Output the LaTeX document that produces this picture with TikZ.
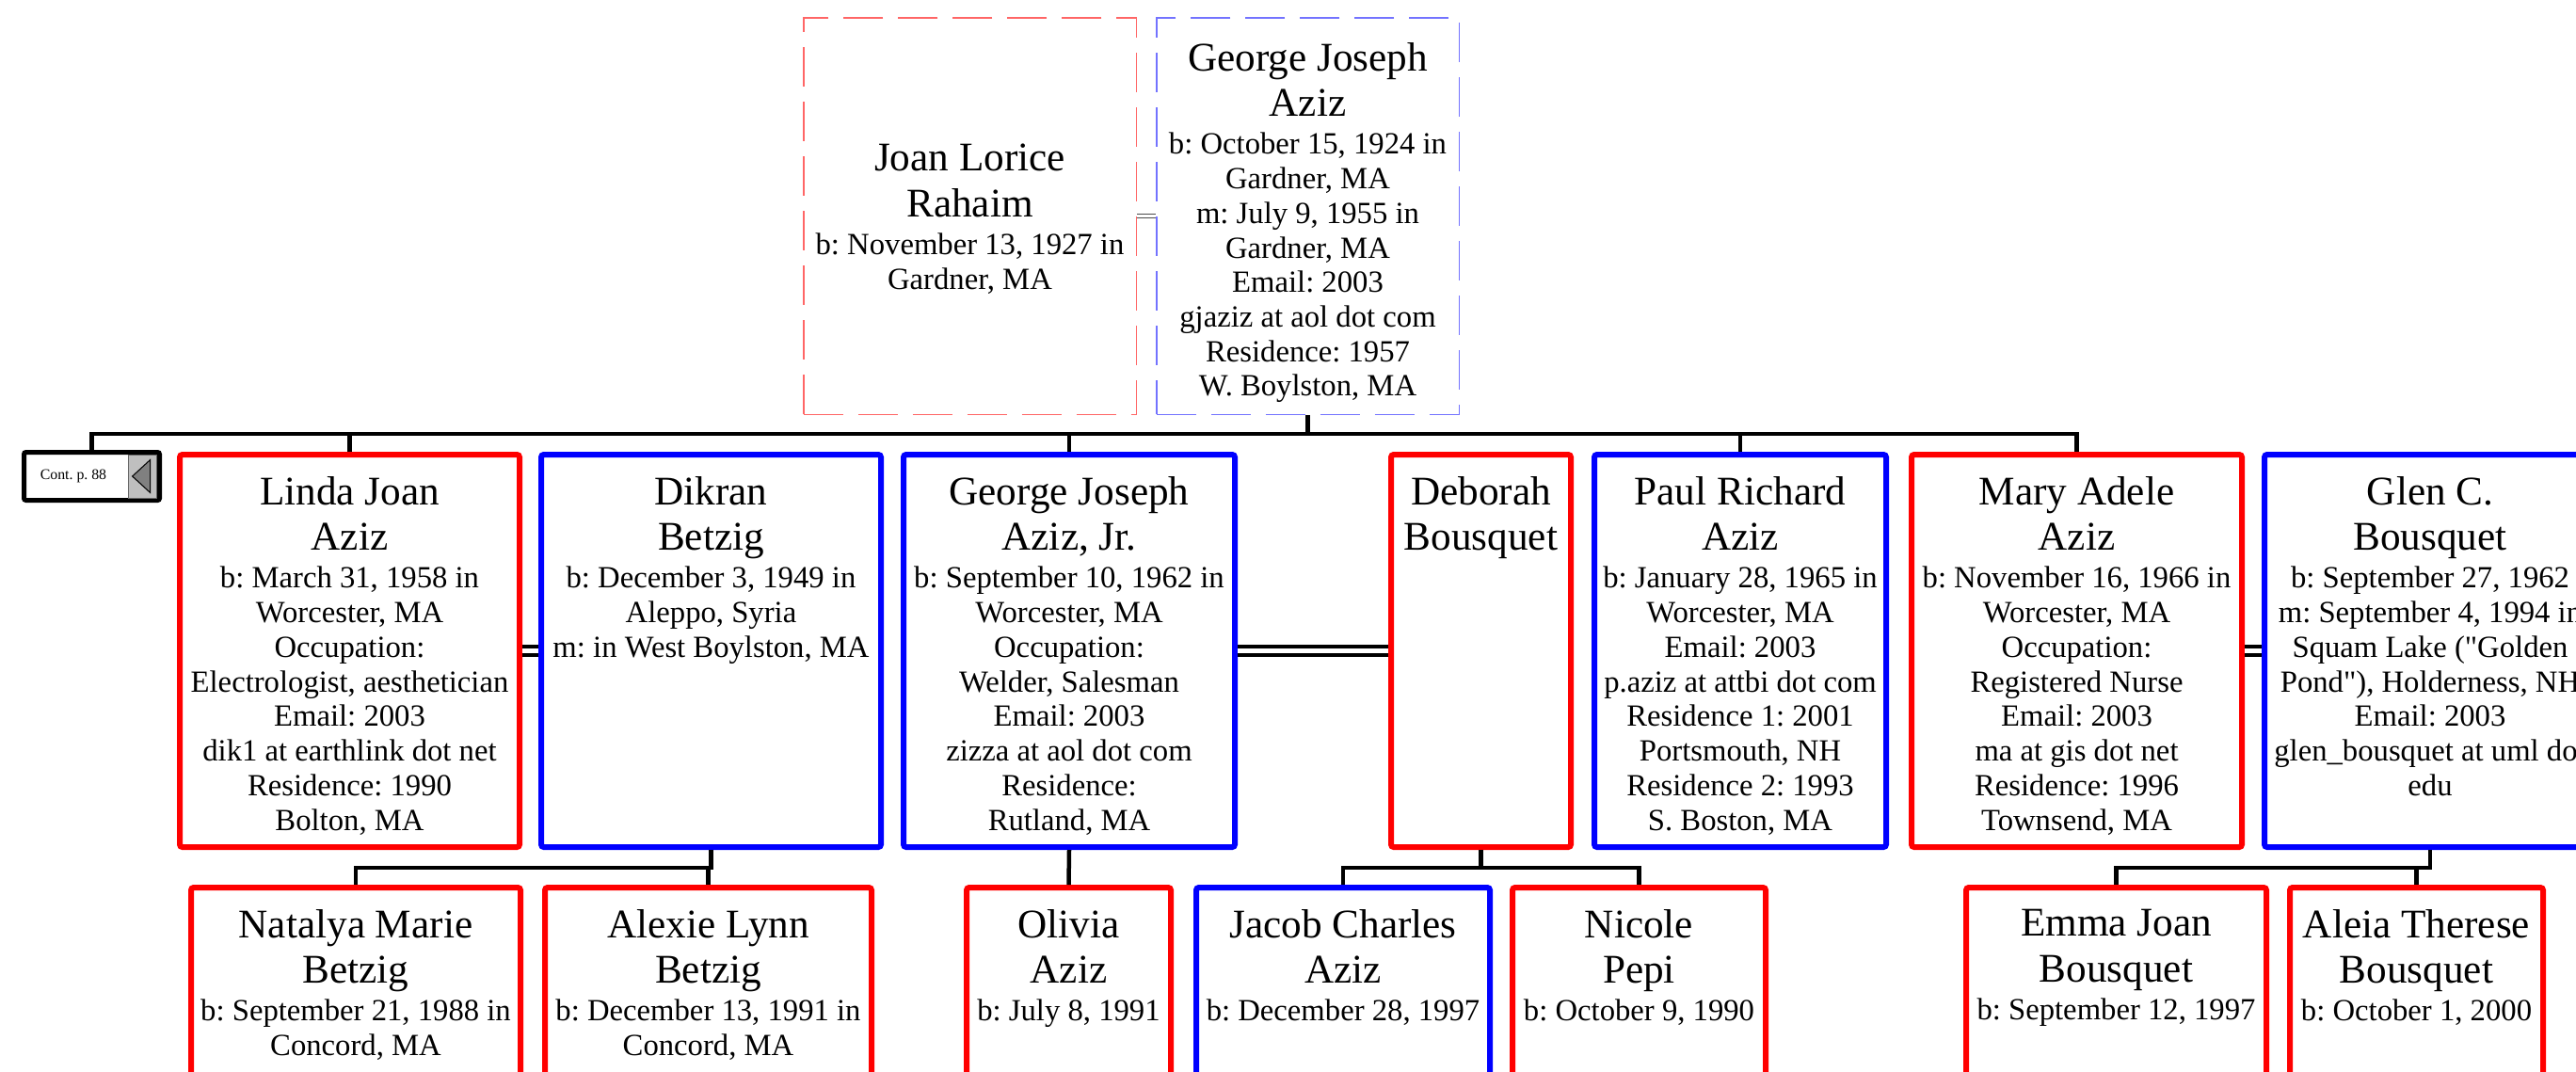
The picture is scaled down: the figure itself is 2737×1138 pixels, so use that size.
\documentclass[tikz,border=0pt]{standalone}
\usepackage{fontspec}
\setmainfont{Liberation Serif}
\usetikzlibrary{calc}
\frenchspacing
\newcommand{\namefont}{\fontsize{12.3}{13.7}\selectfont}
\newcommand{\infofont}{\fontsize{9.3}{10.45}\selectfont}
\newcommand{\famcard}[5][6.7pt]{\parbox[t][#3][t]{#2}{\centering\frenchspacing\vspace*{#1}%
 {\namefont #4\par}\vspace{1pt}{\infofont #5\par}}}
\tikzset{
 card/.style={inner sep=0pt,anchor=north west,fill=white,line width=0.6mm,rounded corners=0.8pt},
 her/.style={card,draw=red},
 him/.style={card,draw=blue},
 elder/.style={inner sep=0pt,anchor=north west,line width=0.15mm,dash pattern=on 12pt off 4.5pt},
 herold/.style={elder,draw=red!60},
 himold/.style={elder,draw=blue!55},
 bus/.style={draw=black,line width=0.45mm},
 wed/.style={draw=black,line width=0.4mm,double=white,double distance=0.5mm},
 wedold/.style={draw=black!70,line width=0.15mm,double=white,double distance=0.25mm},
 contbox/.style={draw=black,line width=0.5mm,rounded corners=0.6pt,inner sep=0pt,anchor=north west,
  minimum height=5.1mm,font=\fontsize{4.5}{5}\selectfont},
 contbtn/.style={draw=black!60,line width=0.2pt,fill=black!25,inner sep=0pt,minimum width=3mm,minimum height=4.6mm}
}
\begin{document}
\begin{tikzpicture}[x=0.1mm,y=-0.1mm]

\useasboundingbox (0,0) rectangle (2737,1138);
\clip (0,0) rectangle (2737,1138);

% parents
\node[herold] (joan) at (853,18) {\famcard[38.3pt]{35.35mm}{42.15mm}{Joan Lorice\\Rahaim}{b: November 13, 1927 in\\Gardner, MA}};
\node[himold] (georgesr) at (1228,18) {\famcard[7.6pt]{32.15mm}{42.15mm}{George Joseph\\Aziz}{b: October 15, 1924 in\\Gardner, MA\\m: July 9, 1955 in\\Gardner, MA\\Email: 2003\\gjaziz at aol dot com\\Residence: 1957\\W. Boylston, MA}};

% children and spouses
\node[contbox] (cont) at (23,478) {\makebox[10.5mm]{Cont. p. 88}\rule{3.9mm}{0pt}};
\node[contbtn,anchor=east] (contbtn) at ([xshift=-0.5mm]cont.east) {};
\filldraw[fill=black!50,draw=black,line width=0.3pt] ([xshift=-1.1mm]contbtn.center) -- ++(19,-17.5) -- ++(0,35) -- cycle;
\node[her] (linda) at (188,480) {\famcard{36.1mm}{41.7mm}{Linda Joan\\Aziz}{b: March 31, 1958 in\\Worcester, MA\\Occupation:\\Electrologist, aesthetician\\Email: 2003\\dik1 at earthlink dot net\\Residence: 1990\\Bolton, MA}};
\node[him] (dikran) at (572,480) {\famcard{36.1mm}{41.7mm}{Dikran\\Betzig}{b: December 3, 1949 in\\Aleppo, Syria\\m: in West Boylston, MA}};
\node[him] (georgejr) at (957,480) {\famcard{35.2mm}{41.7mm}{George Joseph\\Aziz, Jr.}{b: September 10, 1962 in\\Worcester, MA\\Occupation:\\Welder, Salesman\\Email: 2003\\zizza at aol dot com\\Residence:\\Rutland, MA}};
\node[her] (deborah) at (1475,480) {\famcard{19.1mm}{41.7mm}{Deborah\\Bousquet}{}};
\node[him] (paul) at (1691,480) {\famcard{31mm}{41.7mm}{Paul Richard\\Aziz}{b: January 28, 1965 in\\Worcester, MA\\Email: 2003\\p.aziz at attbi dot com\\Residence 1: 2001\\Portsmouth, NH\\Residence 2: 1993\\S. Boston, MA}};
\node[her] (mary) at (2028,480) {\famcard{35.1mm}{41.7mm}{Mary Adele\\Aziz}{b: November 16, 1966 in\\Worcester, MA\\Occupation:\\Registered Nurse\\Email: 2003\\ma at gis dot net\\Residence: 1996\\Townsend, MA}};
\node[him] (glen) at (2403,480) {\famcard{35.2mm}{41.7mm}{Glen C.\\Bousquet}{b: September 27, 1962\\m: September 4, 1994 in\\Squam Lake (\textquotedbl Golden\\Pond\textquotedbl), Holderness, NH\\Email: 2003\\glen\_bousquet at uml dot\\edu}};

% grandchildren
\node[her] (natalya) at (200,940) {\famcard{35mm}{41.7mm}{Natalya Marie\\Betzig}{b: September 21, 1988 in\\Concord, MA}};
\node[her] (alexie) at (576,940) {\famcard{34.7mm}{41.7mm}{Alexie Lynn\\Betzig}{b: December 13, 1991 in\\Concord, MA}};
\node[her] (olivia) at (1024,940) {\famcard{21.7mm}{41.7mm}{Olivia\\Aziz}{b: July 8, 1991}};
\node[him] (jacob) at (1268,940) {\famcard{31.2mm}{41.7mm}{Jacob Charles\\Aziz}{b: December 28, 1997}};
\node[her] (nicole) at (1604,940) {\famcard{26.9mm}{41.7mm}{Nicole\\Pepi}{b: October 9, 1990}};
\node[her] (emma) at (2086,940) {\famcard{31.9mm}{41.7mm}{Emma Joan\\Bousquet}{b: September 12, 1997}};
\node[her] (aleia) at (2430,940) {\famcard{26.9mm}{41.7mm}{Aleia Therese\\Bousquet}{b: October 1, 2000}};

% lines
\coordinate (kids) at (0,461);
\coordinate (grand) at (0,922);
\draw[wedold] (joan.east) -- (georgesr.west);
\draw[bus] (georgesr.south) -- (georgesr.south |- kids);
\draw[bus] (cont.north) -- (cont.north |- kids) -| (mary.north);
\foreach \kid in {linda,georgejr,paul} \draw[bus] (\kid.north) -- (\kid.north |- kids);
\draw[wed] (linda.east) -- (dikran.west);
\draw[wed] (georgejr.east) -- (deborah.west);
\draw[wed] (mary.east) -- (glen.west);
\draw[bus] (dikran.south) -- (dikran.south |- grand) -| (natalya.north);
\draw[bus] (alexie.north) -- (alexie.north |- grand);
\draw[bus] (georgejr.south) -- (olivia.north);
\draw[bus] (deborah.south) -- (deborah.south |- grand);
\draw[bus] (jacob.north) -- (jacob.north |- grand) -| (nicole.north);
\draw[bus] (glen.south) -- (glen.south |- grand) -| (emma.north);
\draw[bus] (aleia.north) -- (aleia.north |- grand);

\end{tikzpicture}
\end{document}
